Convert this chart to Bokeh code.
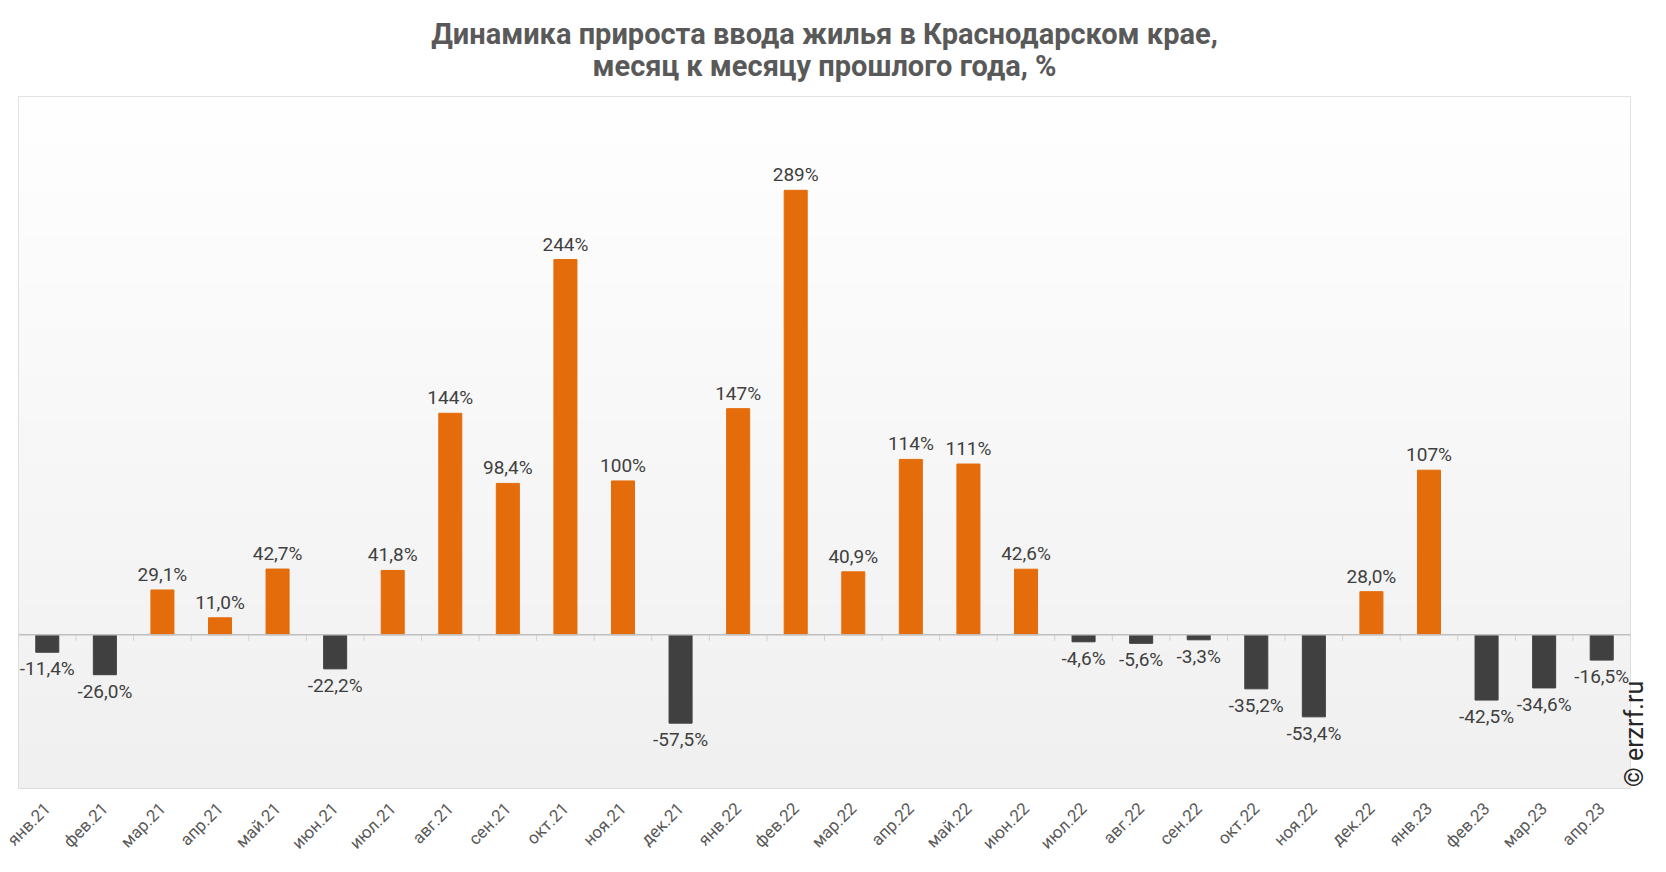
import numpy as np
from math import pi
from bokeh.plotting import figure
from bokeh.models import (ColumnDataSource, FactorRange, Range1d, Span, Title,
                          LinearAxis, FixedTicker)
from bokeh.core.properties import value
from bokeh.embed import file_html
from bokeh.resources import INLINE

months = ["янв.21", "фев.21", "мар.21", "апр.21", "май.21", "июн.21", "июл.21",
          "авг.21", "сен.21", "окт.21", "ноя.21", "дек.21",
          "янв.22", "фев.22", "мар.22", "апр.22", "май.22", "июн.22", "июл.22",
          "авг.22", "сен.22", "окт.22", "ноя.22", "дек.22",
          "янв.23", "фев.23", "мар.23", "апр.23"]
growth = [-11.4, -26.0, 29.1, 11.0, 42.7, -22.2, 41.8,
          144, 98.4, 244, 100, -57.5,
          147, 289, 40.9, 114, 111, 42.6, -4.6,
          -5.6, -3.3, -35.2, -53.4, 28.0,
          107, -42.5, -34.6, -16.5]

title_line1 = "Динамика прироста ввода жилья в Краснодарском крае,"
title_line2 = "месяц к месяцу прошлого года, %"
credit = "© erzrf.ru"

Y_MIN, Y_MAX = -100, 350
ORANGE = "#E46C0A"
DARK = "#404040"


def fmt(v):
    if abs(v) >= 100:
        return f"{v:.0f}%"
    return f"{v:.1f}%".replace(".", ",")


labels = [fmt(v) for v in growth]
colors = [ORANGE if v >= 0 else DARK for v in growth]
pos = [v >= 0 for v in growth]

src_bars = ColumnDataSource(dict(x=months, top=growth, color=colors))
src_pos = ColumnDataSource(dict(x=[m for m, p in zip(months, pos) if p],
                                y=[v for v, p in zip(growth, pos) if p],
                                t=[l for l, p in zip(labels, pos) if p]))
src_neg = ColumnDataSource(dict(x=[m for m, p in zip(months, pos) if not p],
                                y=[v for v, p in zip(growth, pos) if not p],
                                t=[l for l, p in zip(labels, pos) if not p]))

p = figure(width=1666, height=872, output_backend="svg", toolbar_location=None,
           x_range=FactorRange(*months), y_range=Range1d(Y_MIN, Y_MAX),
           min_border_left=18, min_border_right=32, min_border_top=96,
           min_border_bottom=84)
p.background_fill_color = "white"
p.border_fill_color = "white"
p.outline_line_color = "#d9d9d9"
p.outline_line_width = 1
p.xgrid.visible = False
p.ygrid.visible = False
p.yaxis.visible = False

# gradient background
n = len(months)
rows = 256
img = np.zeros((rows, 1), dtype=np.uint32)
view = img.view(dtype=np.uint8).reshape((rows, 1, 4))
shade = np.linspace(240, 255, rows).astype(np.uint8)
view[:, 0, 0] = shade
view[:, 0, 1] = shade
view[:, 0, 2] = shade
view[:, 0, 3] = 255
p.image_rgba(image=[img], x=0, y=Y_MIN, dw=n, dh=Y_MAX - Y_MIN)

# zero line and tick marks at category boundaries
p.add_layout(Span(location=0, dimension="width", line_color="#bfbfbf", line_width=1.5))
tick_len = 6 * (Y_MAX - Y_MIN) / 692.0
bx = list(range(n + 1))
p.segment(x0=bx, x1=bx, y0=[0] * len(bx), y1=[-tick_len] * len(bx),
          line_color="#d0d0d0", line_width=1)

p.vbar(x="x", top="top", bottom=0, width=0.4, fill_color="color",
       line_color="color", source=src_bars)

p.text(x="x", y="y", text="t", source=src_pos, text_align="center",
       text_baseline="bottom", y_offset=-4, text_font=value("Roboto"),
       text_font_size="19px", text_color=DARK)
p.text(x="x", y="y", text="t", source=src_neg, text_align="center",
       text_baseline="top", y_offset=5, text_font=value("Roboto"),
       text_font_size="19px", text_color=DARK)

ax = p.xaxis[0]
ax.axis_line_color = None
ax.major_tick_line_color = None
ax.minor_tick_line_color = None
ax.major_label_orientation = pi / 4
ax.major_label_text_font = "Roboto"
ax.major_label_text_font_size = "17px"
ax.major_label_text_color = "#595959"
ax.major_label_standoff = 11

# credit on the right, reading bottom to top
credit_pos = -99
rax = LinearAxis(ticker=FixedTicker(ticks=[credit_pos]),
                 major_label_overrides={credit_pos: credit})
rax.axis_line_color = None
rax.major_tick_line_color = None
rax.minor_tick_line_color = None
rax.major_tick_out = 0
rax.major_tick_in = 0
rax.minor_tick_out = 0
rax.minor_tick_in = 0
rax.major_label_orientation = pi / 2
rax.major_label_text_font = "Roboto"
rax.major_label_text_font_size = "25px"
rax.major_label_text_color = "#262626"
rax.major_label_standoff = 4
p.add_layout(rax, "right")

# two-line title
title_style = dict(text_font="Roboto", text_font_style="bold",
                   text_font_size="29px", text_color="#595959")
if "text_align" in Title.properties():
    t = Title(text=title_line1 + "\n" + title_line2, align="center", standoff=27,
              text_line_height=0.95, **title_style)
    t.text_align = "center"
    p.add_layout(t, "above")
else:
    p.add_layout(Title(text=title_line2, align="center", standoff=22,
                       **title_style), "above")
    p.add_layout(Title(text=title_line1, align="center", standoff=0,
                       **title_style), "above")

open("out.html", "w").write(file_html(p, INLINE))
